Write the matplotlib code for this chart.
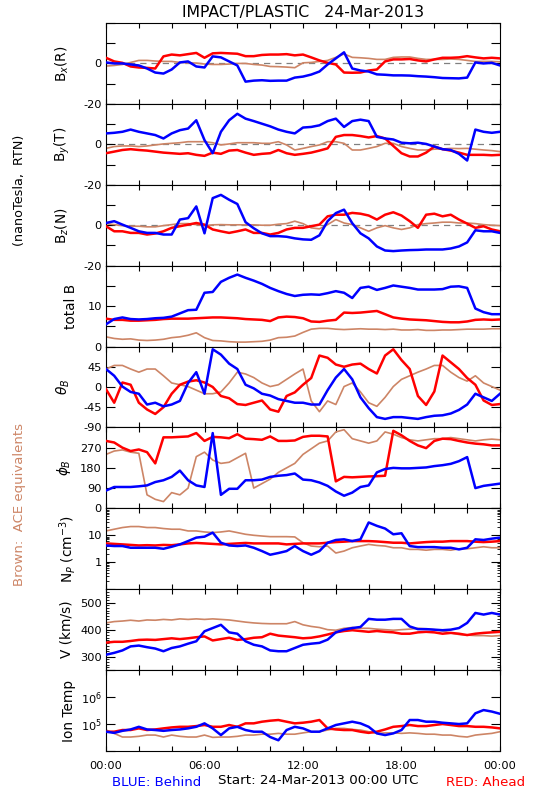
import numpy as np
import matplotlib
matplotlib.use("Agg")
import matplotlib.pyplot as plt
from matplotlib.ticker import FixedLocator, MultipleLocator, LogLocator, NullLocator, NullFormatter

# ---------------- data (hours since 24-Mar-2013 00:00 UTC, half-hour grid) ----------------
hours = np.arange(0, 24.5, 0.5)

bx_red = [2.8, 1.0, 0.3, -1.5, -2.0, -2.2, -2.5, 3.5, 4.4, 4.0, 4.6, 5.2, 2.8, 5.0, 5.2, 5.0, 4.8, 3.6, 3.6, 4.2,
          4.4, 4.4, 4.6, 4.0, 4.4, 3.0, 1.5, 0.3, -0.5, -4.5, -4.6, -4.5, -3.5, -3.0, 1.0, 2.0, 2.0, 2.2, 1.5, 1.0,
          2.0, 2.8, 2.8, 3.0, 3.6, 3.0, 2.5, 2.8, 2.5]
bx_blue = [0.5, 0.0, 0.0, -0.5, -1.0, -2.5, -4.5, -5.0, -3.0, 0.5, 1.0, -1.5, -2.0, 3.5, 3.0, 1.0, -1.0, -9.0, -8.5, -8.3,
           -8.6, -8.5, -8.5, -7.0, -6.5, -5.5, -4.0, -0.5, 2.5, 5.5, -2.5, -3.5, -4.0, -5.4, -5.6, -5.9, -5.9, -6.0, -6.3, -6.5,
           -6.8, -7.2, -7.3, -7.4, -7.0, 0.5, 0.0, 0.3, -1.0]
bx_ace = [-1.3, -1.0, -0.5, 0.5, 1.5, 1.5, 1.2, 1.0, 1.0, 0.5, 0.3, 0.2, -0.3, -0.5, -0.5, -0.3, 0.0, 0.0, -0.5, -0.8,
          -1.5, -1.6, -1.8, -2.1, 0.3, 0.5, 1.0, 1.5, 3.0, 4.7, 3.0, 2.8, 2.5, 2.0, 2.0, 3.0, 3.2, 3.2, 2.5, 2.0,
          2.0, 2.0, 2.2, 2.0, 1.5, 1.0, 1.0, 1.0, 0.8]

by_red = [-4.4, -3.6, -2.8, -2.4, -2.8, -3.1, -3.6, -4.1, -4.4, -4.7, -4.4, -5.2, -5.7, -4.1, -4.7, -3.1, -2.8, -4.1, -5.2, -4.7,
          -4.4, -2.8, -4.4, -5.2, -4.7, -4.1, -3.1, -2.0, 3.7, 4.6, 4.6, 4.1, 3.4, 4.1, 2.9, -0.8, -4.4, -6.0, -6.0, -4.1,
          -1.1, -2.4, -3.1, -4.1, -5.2, -5.2, -5.2, -5.4, -5.2]
by_blue = [5.4, 5.7, 6.2, 7.3, 6.2, 5.4, 4.6, 2.9, 5.4, 7.0, 7.8, 11.9, 2.1, -4.4, 6.2, 11.9, 15.1, 12.7, 11.5, 10.2,
           8.9, 7.3, 6.2, 5.4, 8.3, 8.6, 9.4, 11.5, 12.7, 8.6, 11.5, 12.2, 11.5, 3.7, 2.9, 2.4, 0.8, 0.5, 0.8, 0.2,
           -1.1, -2.4, -2.8, -4.7, -8.0, 7.3, 6.2, 5.7, 6.2]
by_ace = [-2.0, -1.1, -0.8, -0.8, -1.1, -0.8, -0.3, 0.2, 0.5, 0.8, 1.3, 1.3, 1.3, 0.8, -0.3, 0.2, 0.8, 0.8, 0.8, 0.5,
          0.5, 1.3, -0.3, -2.8, -2.0, -1.1, -0.3, 1.3, 1.3, 0.5, -2.8, -2.8, -2.0, -1.1, 0.5, 0.5, -1.1, -2.0, -2.8, -2.8,
          -2.4, -2.3, -2.0, -2.1, -2.0, -2.4, -2.8, -3.1, -3.6]

bz_red = [-0.5, -3.0, -3.0, -3.8, -3.8, -4.6, -4.1, -3.0, -1.3, -0.5, 0.3, 1.1, 0.3, -2.1, -3.0, -3.8, -3.0, -2.1, -3.8, -3.8,
          -4.6, -3.8, -2.1, -1.3, -1.3, -0.5, 0.3, 4.4, 5.2, 5.2, 6.1, 5.7, 4.8, 2.8, 5.2, 6.4, 4.8, 2.0, -1.3, 5.2,
          5.7, 4.4, 5.2, 2.8, 0.8, -1.3, -0.5, -2.1, -3.0]
bz_blue = [1.1, 2.0, 0.3, -1.3, -3.0, -3.8, -3.8, -4.6, -4.6, 2.8, 3.5, 9.3, -4.0, 13.4, 15.0, 12.6, 10.5, 1.5, -1.5, -4.0,
           -5.4, -5.4, -5.7, -6.5, -7.0, -7.2, -5.0, 2.0, 6.0, 7.7, 1.0, -4.0, -6.5, -10.5, -12.5, -12.8, -12.5, -12.3, -12.2, -12.0,
           -12.0, -12.0, -11.5, -10.5, -8.5, -2.5, -3.0, -3.0, -3.8]
bz_ace = [0.8, 0.3, -0.2, -0.5, -0.5, -0.8, -0.8, -0.2, 0.3, 0.8, 0.8, 0.3, -0.2, 0.2, 0.3, 0.2, 0.2, 0.2, 0.2, 0.0,
          0.0, 0.5, 0.8, 2.0, 0.8, -1.3, -1.8, 0.3, 2.8, 1.1, 0.3, -1.3, -3.0, -1.3, -0.2, -1.3, -2.1, -1.3, 0.3, 0.8,
          1.1, 1.5, 1.5, 1.1, 1.1, 0.8, 0.3, 0.0, -0.2]

bt_red = [6.9, 6.6, 6.6, 6.4, 6.4, 6.5, 6.6, 6.8, 6.9, 6.9, 6.9, 7.0, 7.1, 7.2, 7.2, 7.1, 7.0, 6.8, 6.7, 6.6,
          6.3, 7.2, 7.4, 7.3, 7.0, 6.2, 6.1, 6.4, 6.6, 8.4, 8.3, 8.4, 8.6, 8.8, 8.0, 7.2, 6.9, 6.7, 6.6, 6.5,
          6.3, 6.1, 6.0, 6.0, 6.2, 6.6, 6.7, 6.6, 6.7]
bt_blue = [5.5, 6.8, 7.2, 6.8, 6.7, 6.8, 7.0, 7.1, 7.4, 8.2, 9.0, 9.1, 13.3, 13.5, 16.0, 17.0, 17.8, 17.0, 16.3, 15.5,
           14.5, 13.7, 13.0, 12.5, 12.8, 12.9, 12.8, 13.2, 13.7, 13.3, 12.0, 14.5, 14.8, 14.0, 14.5, 15.1, 14.8, 14.5, 14.1, 14.1,
           14.1, 14.2, 14.8, 14.9, 14.5, 9.4, 8.5, 8.0, 8.0]
bt_ace = [2.4, 2.0, 1.8, 1.9, 1.6, 1.5, 1.6, 1.8, 2.2, 2.4, 2.8, 3.4, 2.2, 1.5, 1.4, 1.2, 1.1, 1.1, 1.2, 1.3,
          1.6, 2.2, 2.3, 2.6, 3.5, 4.3, 4.5, 4.5, 4.3, 4.2, 4.3, 4.4, 4.3, 4.3, 4.2, 4.3, 4.1, 4.1, 4.2, 4.0,
          4.0, 4.1, 4.1, 4.2, 4.3, 4.3, 4.3, 4.4, 4.4]

th_red = [-5, -35, 10, 5, -35, -50, -60, -45, -15, 5, 12, 15, 10, 0, -20, -25, -38, -40, -35, -30,
          -50, -55, -20, -12, 5, 20, 70, 65, 50, 45, 50, 52, 40, 30, 70, 84, 60, 40, -20, -40,
          -10, 70, 55, 40, 20, 5, -30, -40, -38]
th_blue = [40, 25, 1, -11, -15, -39, -35, -43, -39, -31, 9, 33, -15, 84, 72, 52, 40, 5, -3, -15,
           -19, -27, -31, -35, -35, -39, -39, -7, 21, 40, 17, -23, -47, -67, -71, -67, -67, -69, -71, -67,
           -64, -63, -59, -51, -39, -15, -23, -31, -15]
th_ace = [40, 48, 48, 40, 33, 40, 40, 25, 9, 5, 1, -7, -15, -15, -11, 9, 33, 29, 21, 9,
          1, 5, 17, 29, 40, -31, -55, -31, -39, 1, 9, -11, -35, -43, -23, 1, 17, 25, 33, 40,
          48, 48, 33, 21, 13, 25, 9, 1, -7]

ph_red = [300, 293, 270, 255, 262, 250, 200, 316, 316, 318, 320, 335, 300, 318, 316, 312, 330, 310, 308, 305,
          320, 300, 300, 302, 318, 323, 323, 320, 120, 140, 138, 140, 142, 143, 145, 345, 325, 300, 280, 268,
          300, 310, 308, 300, 293, 288, 285, 280, 280]
ph_blue = [79, 95, 95, 95, 98, 102, 117, 125, 140, 168, 125, 102, 95, 335, 60, 87, 87, 125, 125, 128,
           140, 145, 148, 155, 128, 125, 115, 100, 75, 56, 70, 95, 102, 160, 175, 180, 178, 178, 180, 182,
           188, 192, 198, 210, 228, 90, 100, 105, 110]
ph_ace = [240, 255, 260, 250, 245, 60, 40, 30, 70, 60, 90, 230, 250, 215, 200, 205, 225, 245, 90, 110,
          130, 160, 180, 200, 240, 265, 290, 300, 340, 350, 310, 300, 290, 300, 340, 330, 315, 305, 300, 305,
          310, 310, 315, 310, 305, 300, 305, 308, 305]

np_red = [5.0, 4.8, 4.6, 4.4, 4.2, 4.3, 4.2, 4.4, 4.3, 4.6, 5.0, 5.2, 5.0, 4.8, 4.6, 4.8, 5.0, 5.2, 5.0, 5.0,
          5.0, 5.0, 4.6, 4.8, 5.0, 5.0, 5.0, 5.3, 5.6, 5.8, 6.1, 6.1, 6.1, 5.9, 5.6, 5.3, 5.3, 5.0, 5.3, 5.6,
          5.8, 5.8, 6.1, 6.1, 6.1, 5.8, 5.6, 5.8, 6.1]
np_blue = [4.2, 4.0, 4.0, 3.45, 3.45, 3.45, 3.45, 3.16, 3.76, 4.6, 6.1, 8.2, 8.9, 12.6, 5.3, 4.2, 4.0, 4.2, 3.45, 2.6,
           1.9, 2.2, 2.6, 4.0, 2.6, 1.9, 2.6, 5.3, 6.7, 7.1, 6.1, 7.1, 29.9, 22.4, 17.8, 10.9, 11.9, 4.0, 3.65, 3.65,
           3.65, 3.45, 3.45, 3.0, 3.45, 7.1, 6.7, 7.5, 8.2]
np_ace = [14.5, 16.8, 19.4, 21.1, 21.1, 19.4, 19.4, 17.8, 16.8, 16.8, 14.5, 14.5, 13.3, 12.6, 13.3, 14.5, 12.6, 10.9, 10.0, 9.4,
          8.9, 8.9, 8.9, 8.7, 5.3, 4.0, 3.76, 4.0, 2.2, 2.6, 3.45, 4.0, 4.6, 4.2, 4.0, 3.45, 3.45, 3.0, 3.0, 2.8,
          3.0, 3.0, 2.8, 3.16, 3.16, 3.45, 3.76, 3.45, 3.45]

v_red = [352, 355, 355, 358, 362, 363, 362, 365, 368, 365, 368, 372, 375, 360, 365, 370, 362, 365, 370, 372,
         385, 378, 375, 372, 368, 370, 375, 382, 390, 395, 398, 395, 392, 395, 392, 390, 385, 385, 390, 392,
         390, 385, 388, 385, 380, 385, 388, 390, 392]
v_blue = [307, 314, 323, 338, 341, 335, 330, 320, 332, 338, 348, 357, 394, 406, 418, 390, 385, 357, 344, 338,
          323, 320, 320, 332, 344, 348, 351, 363, 390, 400, 406, 410, 440, 437, 437, 440, 440, 412, 402, 402,
          400, 398, 400, 406, 425, 462, 456, 462, 456]
v_ace = [425, 430, 432, 435, 432, 436, 435, 438, 436, 440, 438, 440, 438, 440, 438, 436, 432, 428, 425, 423,
         422, 422, 422, 430, 418, 412, 408, 400, 398, 405, 408, 405, 405, 402, 400, 398, 400, 402, 405, 403,
         400, 395, 388, 382, 380, 378, 378, 376, 378]

ti_red = [5.2e4, 5.2e4, 6.0e4, 6.0e4, 6.9e4, 6.0e4, 6.3e4, 6.9e4, 7.5e4, 7.9e4, 7.9e4, 8.4e4, 9.2e4, 7.9e4, 7.9e4, 9.2e4,
          7.9e4, 1.06e5, 1.06e5, 1.22e5, 1.33e5, 1.41e5, 1.22e5, 1.06e5, 1.12e5, 1.22e5, 1.41e5, 6.9e4, 6.3e4, 6.0e4,
          6.0e4, 5.2e4, 4.7e4, 5.2e4, 6.3e4, 7.9e4, 8.4e4, 9.2e4, 8.4e4, 8.4e4, 9.2e4, 1.0e5, 9.2e4, 8.4e4, 8.4e4,
          7.9e4, 7.9e4, 7.5e4, 6.9e4]
ti_blue = [5.2e4, 4.7e4, 5.6e4, 6.3e4, 7.9e4, 6.3e4, 6.0e4, 5.6e4, 6.0e4, 6.3e4, 6.9e4, 7.9e4, 1.06e5, 6.9e4, 3.9e4, 6.9e4,
           7.9e4, 6.0e4, 5.2e4, 5.2e4, 3.3e4, 2.5e4, 6.0e4, 7.9e4, 6.9e4, 5.2e4, 5.2e4, 6.9e4, 9.2e4, 1.06e5,
           1.22e5, 1.06e5, 7.9e4, 4.5e4, 3.9e4, 4.5e4, 6.0e4, 1.41e5, 1.41e5, 1.22e5, 1.22e5, 1.12e5, 1.06e5, 1.0e5, 1.06e5,
           2.5e5, 3.3e5, 2.9e5, 2.4e5]
ti_ace = [6.0e4, 4.5e4, 3.3e4, 3.3e4, 3.5e4, 3.9e4, 3.9e4, 3.3e4, 3.9e4, 3.5e4, 3.3e4, 3.3e4, 3.9e4, 3.2e4, 3.3e4, 3.3e4,
          3.5e4, 3.9e4, 3.9e4, 4.2e4, 4.2e4, 4.5e4, 4.2e4, 4.2e4, 4.7e4, 5.2e4, 5.2e4, 6.0e4, 6.9e4, 6.9e4,
          6.3e4, 6.0e4, 5.2e4, 4.5e4, 4.7e4, 4.7e4, 4.5e4, 4.7e4, 4.5e4, 4.2e4, 4.2e4, 3.9e4, 3.9e4, 3.5e4, 3.3e4,
          3.9e4, 4.2e4, 4.5e4, 5.2e4]

x_tick_labels = ["00:00", "06:00", "12:00", "18:00", "00:00"]

# ---------------- styling ----------------
BLUE = "#0000FF"
RED = "#FF0000"
BROWN = "#CD8566"
plt.rcParams["font.family"] = ["DejaVu Sans"]

W, H = 550, 800
fig = plt.figure(figsize=(5.5, 8.0), dpi=100)

left_px, right_px = 106, 500
top_px, bot_px = 23, 751
n = 9
ph = (bot_px - top_px) / n

panels = [
    dict(series=(bx_ace, bx_red, bx_blue), ylim=(-20, 20), ticks=[-20, -10, 0, 10, 20], labels=["-20", "", "0", "", ""], zero=True, log=False),
    dict(series=(by_ace, by_red, by_blue), ylim=(-20, 20), ticks=[-20, -10, 0, 10, 20], labels=["-20", "", "0", "", ""], zero=True, log=False),
    dict(series=(bz_ace, bz_red, bz_blue), ylim=(-20, 20), ticks=[-20, -10, 0, 10, 20], labels=["-20", "", "0", "", ""], zero=True, log=False),
    dict(series=(bt_ace, bt_red, bt_blue), ylim=(0, 20), ticks=[0, 5, 10, 15, 20], labels=["0", "", "10", "", ""], zero=False, log=False),
    dict(series=(th_ace, th_red, th_blue), ylim=(-90, 90), ticks=[-90, -45, 0, 45, 90], labels=["-90", "-45", "0", "45", ""], zero=False, log=False),
    dict(series=(ph_ace, ph_red, ph_blue), ylim=(0, 360), ticks=[0, 90, 180, 270, 360], labels=["0", "90", "180", "270", ""], zero=False, log=False),
    dict(series=(np_ace, np_red, np_blue), ylim=(0.1, 100), ticks=[0.1, 1, 10, 100], labels=["", "1", "10", ""], zero=False, log=True),
    dict(series=(v_ace, v_red, v_blue), ylim=(250, 550), ticks=[300, 400, 500], labels=["300", "400", "500"], zero=False, log=False),
    dict(series=(ti_ace, ti_red, ti_blue), ylim=(1e4, 1e7), ticks=[1e4, 1e5, 1e6, 1e7], labels=["", r"10$^5$", r"10$^6$", ""], zero=False, log=True),
]

ylabels = [r"B$_x$(R)", r"B$_y$(T)", r"B$_z$(N)", "total B", r"$\theta_B$", r"$\phi_B$",
           r"N$_P$ (cm$^{-3}$)", "V (km/s)", "Ion Temp"]
ylabel_x = [62, 62, 62, 71, 63, 64, 68, 67, 69]

for i, p in enumerate(panels):
    y0 = top_px + i * ph
    ax = fig.add_axes([left_px / W, 1 - (y0 + ph) / H, (right_px - left_px) / W, ph / H])
    ace, red, blue = p["series"]
    if p["zero"]:
        ax.axhline(0, color="#808080", lw=0.9, ls=(0, (5, 4)), zorder=1)
    ax.plot(hours, ace, color=BROWN, lw=1.2, zorder=2)
    ax.plot(hours, red, color=RED, lw=1.8, zorder=3)
    ax.plot(hours, blue, color=BLUE, lw=1.8, zorder=4)
    if p["log"]:
        ax.set_yscale("log")
    ax.set_xlim(0, 24)
    ax.set_ylim(*p["ylim"])
    ax.yaxis.set_major_locator(FixedLocator(p["ticks"]))
    ax.set_yticklabels(p["labels"])
    if p["log"]:
        if i == 6:
            ax.yaxis.set_minor_locator(LogLocator(base=10, subs=np.arange(2, 10), numticks=20))
        else:
            ax.yaxis.set_minor_locator(NullLocator())
        ax.yaxis.set_minor_formatter(NullFormatter())
    elif i == 7:
        ax.yaxis.set_minor_locator(MultipleLocator(10))
    else:
        ax.yaxis.set_minor_locator(NullLocator())
    ax.xaxis.set_minor_locator(NullLocator())
    ax.set_xticks([0, 2, 4, 6, 8, 10, 12, 14, 16, 18, 20, 22, 24])
    if i == n - 1:
        ax.set_xticklabels([x_tick_labels[k // 3] if k % 3 == 0 else "" for k in range(13)])
    else:
        ax.set_xticklabels([])
    ax.tick_params(axis="y", which="major", direction="in", length=6.5, width=0.8,
                   left=True, right=True, labelsize=8.2, pad=3, colors="black")
    ax.tick_params(axis="x", which="major", direction="in", length=3.5, width=0.8,
                   top=True, bottom=True, labelsize=8.2, pad=7, colors="black")
    ax.tick_params(axis="y", which="minor", direction="in", length=2.0, width=0.6, left=True, right=True)
    for s in ax.spines.values():
        s.set_linewidth(0.8)
    fig.text(ylabel_x[i] / W, 1 - (y0 + ph / 2) / H, ylabels[i], rotation=90,
             ha="center", va="center", fontsize=9.8)

fig.text(303 / W, 1 - 12 / H, "IMPACT/PLASTIC   24-Mar-2013", ha="center", va="center", fontsize=11.3)
fig.text(20 / W, 1 - 190 / H, "(nanoTesla,  RTN)", rotation=90, ha="center", va="center", fontsize=9.2)
fig.text(20 / W, 1 - 505 / H, "Brown:  ACE equivalents", rotation=90, ha="center", va="center",
         fontsize=9.5, color=BROWN)
fig.text(112 / W, 1 - 783 / H, "BLUE: Behind", ha="left", va="center", fontsize=9.6, color=BLUE)
fig.text(318 / W, 1 - 781 / H, "Start: 24-Mar-2013 00:00 UTC", ha="center", va="center", fontsize=9.6, color="black")
fig.text(525 / W, 1 - 783 / H, "RED: Ahead", ha="right", va="center", fontsize=9.6, color=RED)

fig.savefig("out.png", dpi=100, facecolor="white")
